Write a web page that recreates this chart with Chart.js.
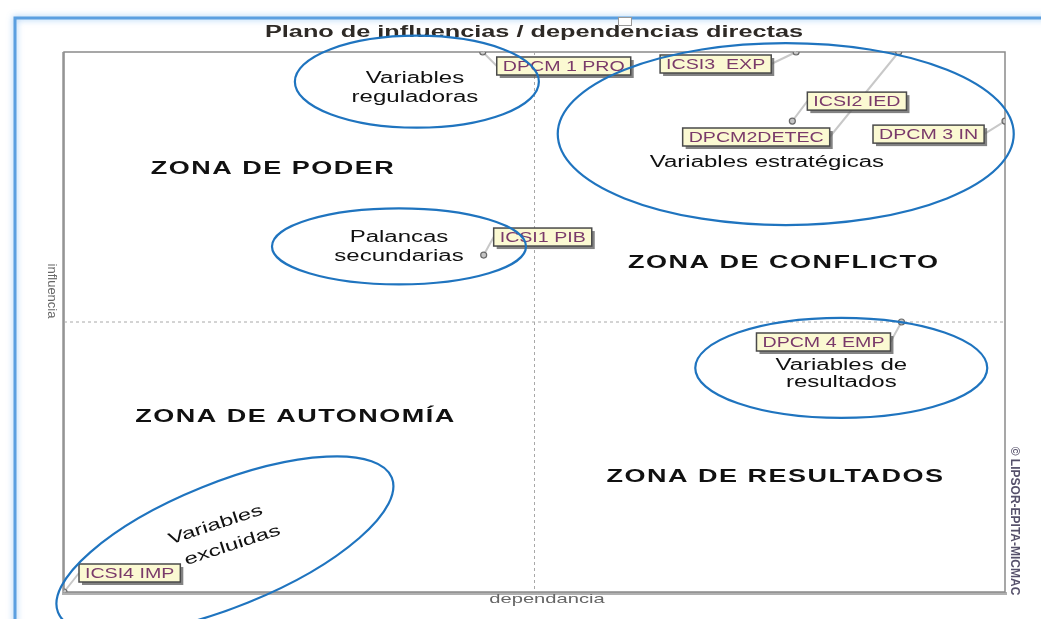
<!DOCTYPE html>
<html>
<head>
<meta charset="utf-8">
<script src="https://cdn.jsdelivr.net/npm/chart.js@4.4.1/dist/chart.umd.min.js"></script>
<style>
  html, body { margin: 0; padding: 0; background: #fff; }
  #wrap { width: 1041px; height: 619px; position: relative; }
</style>
</head>
<body>
<div id="wrap"><canvas id="plano" width="1041" height="619"></canvas></div>
<script>
// variables (dependencia = x, influencia = y)
const variables = ["ICSI4 IMP", "ICSI1 PIB", "DPCM 1 PRO", "ICSI3  EXP", "DPCM2DETEC", "ICSI2 IED", "DPCM 3 IN", "DPCM 4 EMP"]
const dependencia = [0, 44.6, 44.5, 77.8, 88.7, 77.4, 100, 89.0]
const influencia = [0, 62.4, 100, 100, 100, 87.2, 87.2, 50.0]

// label box offsets from the point (px), layout only
const labelOffsets = [[15, -28], [10, -27], [14, 5], [-136, 3], [-216, 76], [15, -29], [-132, 4], [-145, 11]]

const zonas = ["ZONA DE PODER", "ZONA DE CONFLICTO", "ZONA DE AUTONOMÍA", "ZONA DE RESULTADOS"]
const zonaPos = [[22.2, 78.3], [76.5, 61], [24.6, 32.4], [75.6, 21.3]]

const grupos = [["Variables", "reguladoras"], ["Variables estratégicas"], ["Palancas", "secundarias"], ["Variables de", "resultados"], ["Variables", "excluidas"]]
// ellipse centre in data units, radii in px, rotation in degrees
const elipses = [
  { x: 37.5, y: 94.5, rx: 122, ry: 46, rot: 0, tx: [37.3, 37.3], ty: [95, 91.5], ang: 0 },
  { x: 76.7, y: 84.8, rx: 228, ry: 91, rot: 0, tx: [74.7], ty: [79.6], ang: 0 },
  { x: 35.6, y: 64, rx: 127, ry: 38, rot: 0, tx: [35.6, 35.6], ty: [65.7, 62.2], ang: 0 },
  { x: 82.6, y: 41.5, rx: 146, ry: 50, rot: 0, tx: [82.6, 82.6], ty: [41.9, 38.7], ang: 0 },
  { x: 17.1, y: 8.7, rx: 180, ry: 62, rot: -22, tx: [16.1, 17.9], ty: [12.4, 8.6], ang: -18 }
]

// the reference screenshot is stretched sideways, so text is too
function wideText(ctx, text, px, py, sx, ang) {
  ctx.save()
  ctx.translate(px, py)
  if (ang) ctx.rotate(ang * Math.PI / 180)
  ctx.scale(sx, 1)
  ctx.fillText(text, 0, 0)
  ctx.restore()
}

function labelWidth(ctx, text) {
  ctx.save()
  ctx.font = "14px Arial"
  const w = ctx.measureText(text).width * 1.4 + 12
  ctx.restore()
  return w
}

const chartOverlay = {
  id: "chartOverlay",
  beforeDraw(chart) {
    const { ctx, chartArea: a, scales: { x, y } } = chart
    ctx.save()
    // window frame
    ctx.shadowColor = "rgba(100,170,240,0.7)"
    ctx.shadowBlur = 6
    ctx.strokeStyle = "#5b9fe0"
    ctx.lineWidth = 3
    ctx.beginPath()
    ctx.moveTo(15, 660)
    ctx.lineTo(15, 18)
    ctx.lineTo(1060, 18)
    ctx.stroke()
    ctx.shadowBlur = 0
    // plot border with shadow
    ctx.fillStyle = "#b0b0b0"
    ctx.fillRect(a.left - 2, a.top, 2, a.height + 2)
    ctx.fillRect(a.left - 2, a.bottom, a.width + 4, 3)
    ctx.strokeStyle = "#8a8a8a"
    ctx.lineWidth = 1.5
    ctx.strokeRect(a.left, a.top, a.width, a.height)
    // midlines
    ctx.setLineDash([3, 3])
    ctx.strokeStyle = "#a8a8a8"
    ctx.lineWidth = 1
    const mx = x.getPixelForValue(50), my = y.getPixelForValue(50)
    ctx.beginPath()
    ctx.moveTo(mx, a.top); ctx.lineTo(mx, a.bottom)
    ctx.moveTo(a.left, my); ctx.lineTo(a.right, my)
    ctx.stroke()
    ctx.setLineDash([])
    // title
    ctx.fillStyle = "#2e2a26"
    ctx.font = "bold 16px Arial"
    ctx.textAlign = "center"
    ctx.textBaseline = "middle"
    wideText(ctx, "Plano de influencias / dependencias directas", 534, 33, 1.58)
    ctx.strokeStyle = "#999"
    ctx.fillStyle = "#fff"
    ctx.lineWidth = 1
    ctx.fillRect(618, 17, 13, 8)
    ctx.strokeRect(618.5, 17.5, 13, 8)
    // axis titles
    ctx.fillStyle = "#666"
    ctx.font = "13px Arial"
    wideText(ctx, "dependancia", 547, 599, 1.55)
    ctx.save()
    ctx.translate(52, 291)
    ctx.rotate(Math.PI / 2)
    ctx.fillText("influencia", 0, 0)
    ctx.restore()
    ctx.save()
    ctx.translate(1014, 521)
    ctx.rotate(Math.PI / 2)
    ctx.font = "bold 12px Arial"
    ctx.fillStyle = "#55506a"
    ctx.fillText("© LIPSOR-EPITA-MICMAC", 0, 0)
    ctx.restore()
    // leader lines
    ctx.strokeStyle = "#c8c8c8"
    ctx.lineWidth = 2
    dependencia.forEach((d, i) => {
      const px = x.getPixelForValue(d), py = y.getPixelForValue(influencia[i])
      const [ox, oy] = labelOffsets[i]
      ctx.beginPath()
      ctx.moveTo(px, py)
      ctx.lineTo(px + ox + (ox < 0 ? labelWidth(ctx, variables[i]) : 0), py + oy + 9)
      ctx.stroke()
    })
    ctx.restore()
  },
  afterDraw(chart) {
    const { ctx, scales: { x, y } } = chart
    ctx.save()
    ctx.textAlign = "center"
    ctx.textBaseline = "middle"
    // point labels
    dependencia.forEach((d, i) => {
      const px = x.getPixelForValue(d), py = y.getPixelForValue(influencia[i])
      const [ox, oy] = labelOffsets[i]
      const w = labelWidth(ctx, variables[i])
      const bx = px + ox, by = py + oy
      ctx.fillStyle = "rgba(90,90,90,0.75)"
      ctx.fillRect(bx + 3, by + 3, w, 18)
      ctx.fillStyle = "#fbf9d2"
      ctx.fillRect(bx, by, w, 18)
      ctx.strokeStyle = "#4a4a4a"
      ctx.lineWidth = 1.5
      ctx.strokeRect(bx, by, w, 18)
      ctx.fillStyle = "#7a3a6a"
      ctx.font = "14px Arial"
      wideText(ctx, variables[i], bx + w / 2, by + 10, 1.4)
    })
    // zone names
    ctx.fillStyle = "#111"
    ctx.font = "bold 18px Arial"
    ctx.letterSpacing = "1px"
    zonas.forEach((z, i) => {
      wideText(ctx, z, x.getPixelForValue(zonaPos[i][0]), y.getPixelForValue(zonaPos[i][1]), 1.5)
    })
    ctx.letterSpacing = "0px"
    // ellipses and group names
    elipses.forEach((e, i) => {
      const cx = x.getPixelForValue(e.x), cy = y.getPixelForValue(e.y)
      ctx.strokeStyle = "#1f74bf"
      ctx.lineWidth = 2.2
      ctx.beginPath()
      ctx.ellipse(cx, cy, e.rx, e.ry, e.rot * Math.PI / 180, 0, Math.PI * 2)
      ctx.stroke()
      ctx.fillStyle = "#111"
      ctx.font = "16px Arial"
      grupos[i].forEach((t, k) => {
        wideText(ctx, t, x.getPixelForValue(e.tx[k]), y.getPixelForValue(e.ty[k]), 1.5, e.ang)
      })
    })
    ctx.restore()
  }
}

new Chart(document.getElementById("plano"), {
  type: "scatter",
  data: {
    datasets: [{
      label: "variables",
      data: dependencia.map((d, i) => ({ x: d, y: influencia[i] })),
      pointRadius: 3,
      pointBackgroundColor: "#c4c4c4",
      pointBorderColor: "#6a6a6a",
      pointBorderWidth: 1.2
    }]
  },
  options: {
    responsive: false,
    animation: false,
    layout: { padding: { left: 64, right: 36, top: 52, bottom: 27 } },
    plugins: { legend: { display: false }, tooltip: { enabled: false } },
    scales: {
      x: { type: "linear", min: 0, max: 100, display: false },
      y: { type: "linear", min: 0, max: 100, display: false }
    }
  },
  plugins: [chartOverlay]
})
</script>
</body>
</html>
